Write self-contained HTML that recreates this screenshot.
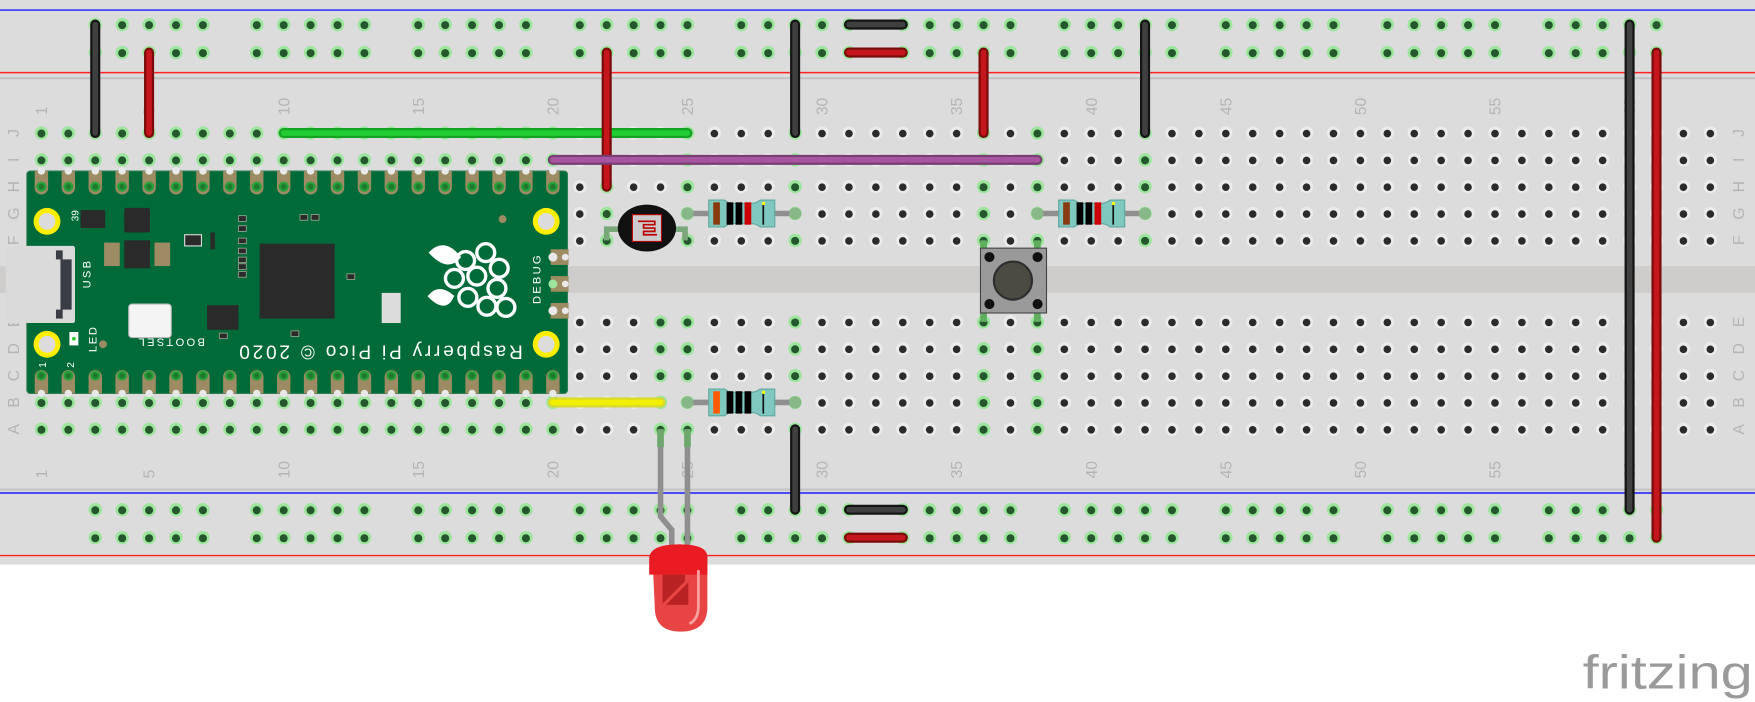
<!DOCTYPE html>
<html><head><meta charset="utf-8"><style>
html,body{margin:0;padding:0;background:#fff;width:1755px;height:702px;overflow:hidden}
svg{display:block}
text{font-family:"Liberation Sans","DejaVu Sans",sans-serif}
</style></head><body>
<svg id="s" width="1755" height="702" viewBox="0 0 1568 628" preserveAspectRatio="none" xmlns="http://www.w3.org/2000/svg">
<rect x="0" y="0" width="1568" height="505" fill="#dcdcdc"/>
<rect x="0" y="69" width="1568" height="2" fill="#c4c4c4"/>
<rect x="0" y="437" width="1568" height="2" fill="#c4c4c4"/>
<rect x="0" y="238" width="1568" height="24" fill="#cfcdcb"/>
<line x1="0" y1="9" x2="1568" y2="9" stroke="#1a1aff" stroke-width="1.3"/>
<line x1="0" y1="65" x2="1568" y2="65" stroke="#ff2020" stroke-width="1.3"/>
<line x1="0" y1="441" x2="1568" y2="441" stroke="#1a1aff" stroke-width="1.3"/>
<line x1="0" y1="497" x2="1568" y2="497" stroke="#ff2020" stroke-width="1.3"/>
<g id="holes"></g>
<g id="labels" fill="#b4b4b4" font-size="14"></g>
<g id="pico"></g>
<g id="wires"></g>
<text x="1414" y="616" font-size="42" fill="#9a9a9a" textLength="152" lengthAdjust="spacingAndGlyphs">fritzing</text>
</svg>
<script>
var NS="http://www.w3.org/2000/svg";
function el(p,t,a,txt){var e=document.createElementNS(NS,t);for(var k in a)e.setAttribute(k,a[k]);if(txt!=null)e.textContent=txt;p.appendChild(e);return e;}
function cx(n){return 37+(n-1)*24.05;}
var R={J:119,I:143,H:167,G:191,F:215,E:288,D:312,C:336,B:360,A:384};
var H=document.getElementById('holes'),L=document.getElementById('labels'),P=document.getElementById('pico'),W=document.getElementById('wires');
function hole(x,y,g){
 if(g){el(H,'circle',{cx:x,cy:y,r:6,fill:'#9de59d'});el(H,'circle',{cx:x,cy:y+0.5,r:3.6,fill:'#24582c'});}
 else{el(H,'circle',{cx:x,cy:y,r:6,fill:'#ebebeb'});el(H,'circle',{cx:x,cy:y+0.5,r:3.4,fill:'#2b2b2b'});}
}
var topG=[22,25,29,36,38,42],botG=[24,25,29,36,38];
for(var n=1;n<=63;n++){
 ['J','I','H','G','F'].forEach(function(r){hole(cx(n),R[r],n<=20||topG.indexOf(n)>=0);});
 ['E','D','C','B','A'].forEach(function(r){hole(cx(n),R[r],n<=20||botG.indexOf(n)>=0);});
}
for(var g=0;g<10;g++)for(var k=0;k<5;k++){var c=3+g*6+k,x=cx(c);[22,47,456,481].forEach(function(y){hole(x,y,true);});}
var nums=[1,5,10,15,20,25,30,35,40,45,50,55,60];
nums.forEach(function(n){var x=cx(n)+5;
 el(L,'text',{x:0,y:0,transform:'translate('+x+',103) rotate(-90)'},String(n));
 el(L,'text',{x:0,y:0,transform:'translate('+x+',428) rotate(-90)'},String(n));});
for(var r in R){el(L,'text',{x:0,y:0,'text-anchor':'middle',transform:'translate(17,'+R[r]+') rotate(-90)'},r);
 el(L,'text',{x:0,y:0,'text-anchor':'middle',transform:'translate(1558,'+R[r]+') rotate(-90)'},r);}
// PICO
el(P,'rect',{x:24,y:153,width:483,height:199,rx:3,fill:'#006a38',stroke:'#2f7d52','stroke-width':1});
for(var n=1;n<=20;n++){var x=cx(n);
 el(P,'path',{d:'M'+(x-6)+' 153 v15 a6 6 0 0 0 12 0 v-15 z',fill:'#9c8b63'});
 el(P,'circle',{cx:x,cy:153,r:3.3,fill:'#e8e8e8'});
 el(P,'circle',{cx:x,cy:167,r:4.5,fill:'#27a03a'});el(P,'circle',{cx:x,cy:167,r:2.5,fill:'#1f7a2e'});
 el(P,'path',{d:'M'+(x-6)+' 352 v-15 a6 6 0 0 1 12 0 v15 z',fill:'#9c8b63'});
 el(P,'circle',{cx:x,cy:352,r:3.3,fill:'#e8e8e8'});
 el(P,'circle',{cx:x,cy:336,r:4.5,fill:'#27a03a'});el(P,'circle',{cx:x,cy:336,r:2.5,fill:'#1f7a2e'});}
[[42,198],[488,198],[42,308],[488,308]].forEach(function(p){el(P,'circle',{cx:p[0],cy:p[1],r:12,fill:'#ffee00'});el(P,'circle',{cx:p[0],cy:p[1],r:7.5,fill:'#dcdcdc'});});
[230,254,278].forEach(function(y,i){el(P,'rect',{x:492,y:y-7,width:16,height:14,fill:'#9c8b63'});el(P,'circle',{cx:494,cy:y,r:4,fill:i==1?'#9de59d':'#e8e8e8'});el(P,'circle',{cx:505,cy:y,r:3,fill:'#e8e8e8'});});
el(P,'rect',{x:5,y:220,width:62,height:69,rx:2,fill:'#dadada'});
el(P,'path',{d:'M50 224 h6 v8 h8 v45 h-8 v8 h-6 v-8 h4 v-45 h-4z',fill:'#3a3d46'});
el(P,'rect',{x:232,y:218,width:67,height:67,fill:'#2a2a2a'});
el(P,'rect',{x:72,y:188,width:22,height:16,fill:'#2a2a2a'});
el(P,'rect',{x:111,y:186,width:23,height:22,rx:2,fill:'#2a2a2a'});
el(P,'rect',{x:111,y:215,width:23,height:25,fill:'#2a2a2a'});
el(P,'rect',{x:93,y:217,width:14,height:21,fill:'#9c8b63'});el(P,'rect',{x:138,y:217,width:14,height:21,fill:'#9c8b63'});
el(P,'rect',{x:185,y:273,width:28,height:22,fill:'#2a2a2a'});
el(P,'rect',{x:115,y:272,width:38,height:30,rx:3,fill:'#f4f4f4',stroke:'#bbb'});
el(P,'rect',{x:341,y:262,width:17,height:27,fill:'#dcdcdc'});
el(P,'rect',{x:165,y:210,width:15,height:10,fill:'#2a2a2a',stroke:'#ddd','stroke-width':1});
el(P,'rect',{x:188,y:208,width:4,height:15,fill:'#2a2a2a'});
el(P,'rect',{x:62,y:297,width:8,height:12,fill:'#fff'});el(P,'circle',{cx:66,cy:303,r:1.6,fill:'#2c2'});
el(P,'circle',{cx:92,cy:308,r:3.5,fill:'#9c8b63'});el(P,'circle',{cx:449,cy:196,r:3.5,fill:'#9c8b63'});
[[213,193],[213,202],[213,213],[213,222],[213,230],[213,236],[213,243],[268,192],[278,192],[310,245],[196,298],[260,296]].forEach(function(p){el(P,'rect',{x:p[0],y:p[1],width:7,height:5,fill:'#2a2a2a',stroke:'#bba','stroke-width':0.6});});
// raspberry logo
var g=el(P,'g',{fill:'none',stroke:'#fff','stroke-width':3});
el(g,'path',{d:'M385 226 q12 -12 25 4 q-10 12 -25 -4z',fill:'#fff'});
el(g,'path',{d:'M384 265 q8 -10 20 0 q-6 14 -20 0z',fill:'#fff'});
[[416,233],[434,226],[446,240],[406,249],[426,247],[444,258],[418,266],[435,274],[452,275]].forEach(function(p){el(g,'circle',{cx:p[0],cy:p[1],r:8});});
var t=function(x,y,rot,s,sz,ls){el(P,'text',{x:0,y:0,fill:'#fff','font-size':sz,'letter-spacing':ls||0,transform:'translate('+x+','+y+') rotate('+rot+')'},s);};
t(467,309,180,'Raspberry Pi Pico © 2020',17,2.5);
t(183,303,180,'BOOTSEL',10,2);
t(81,258,-90,'USB',10,2);
t(483,272,-90,'DEBUG',10,2);
t(86,315,-90,'LED',10,1.5);
t(41,329,-90,'1',9);t(66,329,-90,'2',9);t(70,198,-90,'39',9);
// wires
function wire(x1,y1,x2,y2,c,b){el(W,'line',{x1:x1,y1:y1,x2:x2,y2:y2,stroke:b,'stroke-width':9,'stroke-linecap':'round'});el(W,'line',{x1:x1,y1:y1,x2:x2,y2:y2,stroke:c,'stroke-width':5,'stroke-linecap':'round'});}
var BK='#404040',BKb='#141414',RD='#c4161c',RDb='#7a0b0b';
wire(cx(3),22,cx(3),119,BK,BKb);
wire(cx(5),47,cx(5),119,RD,RDb);
wire(cx(10),119,cx(25),119,'#22cc33','#15a324');
wire(cx(22),47,cx(22),167,RD,RDb);
wire(cx(20),143,cx(38),143,'#a8559f','#7a3c74');
wire(cx(29),22,cx(29),119,BK,BKb);
wire(cx(31),22,cx(33),22,BK,BKb);
wire(cx(31),47,cx(33),47,RD,RDb);
wire(cx(36),47,cx(36),119,RD,RDb);
wire(cx(42),22,cx(42),119,BK,BKb);
wire(cx(60),22,cx(60),456,BK,BKb);
wire(cx(61),47,cx(61),481,RD,RDb);
wire(cx(20),360,cx(24),360,'#f2f000','#d8d830');
wire(cx(29),384,cx(29),456,BK,BKb);
wire(cx(31),456,cx(33),456,BK,BKb);
wire(cx(31),481,cx(33),481,RD,RDb);
// resistors
function res(x1,y,x2,bands){el(W,'line',{x1:x1,y1:y,x2:x2,y2:y,stroke:'#8f8f8f','stroke-width':5});
 el(W,'circle',{cx:x1,cy:y,r:5.5,fill:'#88b888'});el(W,'circle',{cx:x2,cy:y,r:5.5,fill:'#88b888'});
 var bx=x1+19;el(W,'path',{d:'M'+bx+' '+(y-12)+' h14 q4 3 8 3 h16 q4 0 8 -3 h13 v24 h-13 q-4 -3 -8 -3 h-16 q-4 0 -8 3 h-14z',fill:'#7ec8c0',stroke:'#5fa8a0','stroke-width':1});
 var xs=[bx+7,bx+19,bx+27,bx+35];bands.forEach(function(c,i){el(W,'rect',{x:xs[i]-3,y:y-10,width:6,height:20,fill:c});});
 el(W,'rect',{x:bx+48,y:y-9,width:1.5,height:19,fill:'#111'});el(W,'circle',{cx:bx+49,cy:y-9,r:1.5,fill:'#ff0'});}
res(cx(25),191,cx(29),['#8a3a10','#000','#000','#cc0000']);
res(cx(38),191,cx(42),['#8a3a10','#000','#000','#cc0000']);
res(cx(25),360,cx(29),['#ff5a00','#000','#000','#000']);
// LDR
el(W,'path',{d:'M'+cx(22)+' 215 v-10 h70 v10',fill:'none',stroke:'#7aa87a','stroke-width':5});
el(W,'ellipse',{cx:578,cy:204,rx:26,ry:21,fill:'#111'});
el(W,'rect',{x:565,y:192,width:26,height:24,fill:'#ccc',stroke:'#b00','stroke-width':1});
el(W,'path',{d:'M570 198 h15 v3 h-10 v3 h10 v3 h-10 v3 h12',fill:'none',stroke:'#b00','stroke-width':1.5});
// button
el(W,'rect',{x:cx(36)-3,y:215,width:6,height:10,fill:'#5fae5f'});el(W,'rect',{x:cx(38)-3,y:215,width:6,height:10,fill:'#5fae5f'});
el(W,'rect',{x:cx(36)-3,y:278,width:6,height:10,fill:'#5fae5f'});el(W,'rect',{x:cx(38)-3,y:278,width:6,height:10,fill:'#5fae5f'});
el(W,'rect',{x:876,y:222,width:59,height:58,fill:'#9a9a9a',stroke:'#444','stroke-width':1});
el(W,'circle',{cx:905,cy:251,r:17,fill:'#4c4b42',stroke:'#2e2e2e','stroke-width':2});
[[884,230],[927,230],[884,272],[927,272]].forEach(function(p){el(W,'circle',{cx:p[0],cy:p[1],r:4.5,fill:'#111'});});
// LED
el(W,'path',{d:'M'+cx(24)+' 384 v78 l10 12 v20',fill:'none',stroke:'#8f8f8f','stroke-width':5});
el(W,'path',{d:'M'+cx(25)+' 384 v110',fill:'none',stroke:'#8f8f8f','stroke-width':5});
el(W,'rect',{x:cx(24)-3,y:384,width:6,height:16,fill:'#6fa86f'});el(W,'rect',{x:cx(25)-3,y:384,width:6,height:16,fill:'#6fa86f'});
el(W,'path',{d:'M583 500 q0 -13 24 -13 q25 0 25 11 v45 q0 22 -24 22 q-23 0 -23 -22z',fill:'#e84444'});
el(W,'path',{d:'M580 500 q0 -13 27 -13 q25 0 25 12 v15 h-52z',fill:'#e81c22'});
el(W,'path',{d:'M592 514 v26 l20 -20 v-6z M595 541 l20 -20 v20z',fill:'#b82222'});
el(W,'path',{d:'M624 510 v32 q0 12 -8 16',fill:'none',stroke:'#f8a0a0','stroke-width':2.5});
</script>
</body></html>
